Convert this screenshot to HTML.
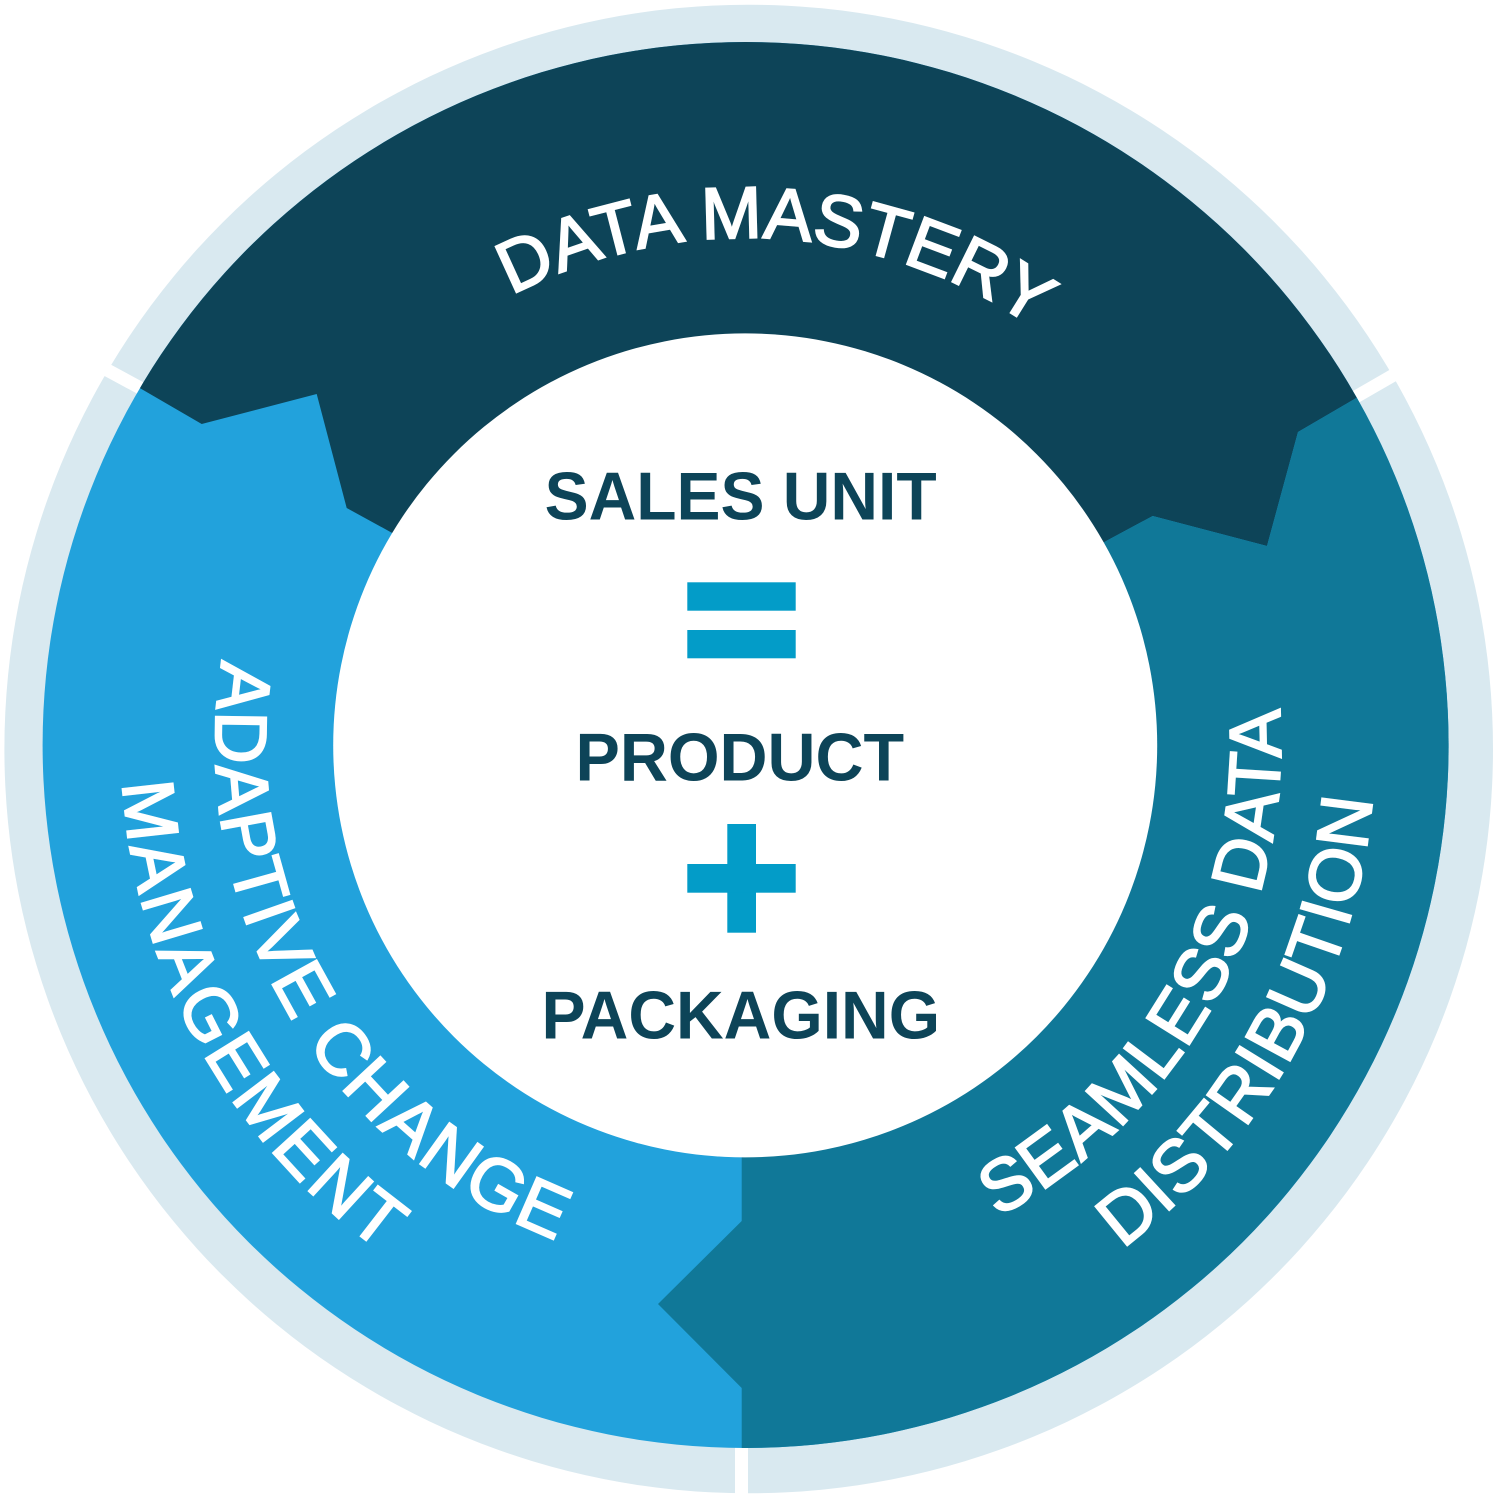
<!DOCTYPE html>
<html>
<head>
<meta charset="utf-8">
<style>
  html, body { margin: 0; padding: 0; background: #ffffff; }
  body { width: 1500px; height: 1500px; overflow: hidden; }
  svg { display: block; }
</style>
</head>
<body>
<svg width="1500" height="1500" viewBox="0 0 1500 1500" xmlns="http://www.w3.org/2000/svg">
  <defs>
    <clipPath id="ring">
      <circle cx="745.6" cy="745" r="703"/>
    </clipPath>
    <!-- DATA MASTERY: clockwise, baseline r=507 -->
    <path id="pTop" d="M 511.5 295.3 A 507 507 0 0 1 1134 419.1" fill="none"/>
    <!-- ADAPTIVE CHANGE: counterclockwise, r=530 -->
    <path id="pL1" d="M 222.4 660.3 A 530 530 0 0 0 699.4 1273" fill="none"/>
    <!-- MANAGEMENT: counterclockwise, r=624 -->
    <path id="pL2" d="M 122.8 783.1 A 624 624 0 0 0 637.2 1359.5" fill="none"/>
    <!-- SEAMLESS DATA: counterclockwise, r=535 -->
    <path id="pR1" d="M 997.5 1217 A 535 535 0 0 0 1248.3 562" fill="none"/>
    <!-- DISTRIBUTION: counterclockwise, r=629 -->
    <path id="pR2" d="M 1122.4 1248.7 A 629 629 0 0 0 1365 635.8" fill="none"/>
  </defs>

  <rect x="0" y="0" width="1500" height="1500" fill="#ffffff"/>

  <!-- outer light ring -->
  <circle cx="748.7" cy="749" r="744.3" fill="#d9e9f0"/>
  <g stroke="#ffffff" stroke-width="13" stroke-linecap="butt">
    <line x1="741.5" y1="1380" x2="741.5" y2="1500"/>
    <line x1="55.2" y1="342" x2="173.7" y2="406"/>
    <line x1="1444" y1="346" x2="1324.3" y2="415"/>
  </g>

  <!-- coloured ring base (light blue segment) -->
  <circle cx="745.6" cy="745" r="703" fill="#22a2dc"/>

  <g clip-path="url(#ring)">
    <!-- navy top segment -->
    <path fill="#0d4458" d="M 0 312.3 L 138 387 L 201.7 424 L 316.7 394 L 346.7 508 L 390 531.7 L 736.4 731.7 L 761.6 740 L 1108 540 L 1152.7 516 L 1267 546 L 1298 432 L 1358 397 L 1500 315 L 1500 0 L 0 0 Z"/>
    <!-- teal right segment -->
    <path fill="#107898" d="M 761.6 740 L 1108 540 L 1152.7 516 L 1267 546 L 1298 432 L 1358 397 L 1500 315 L 1500 1500 L 741.7 1500 L 741.7 1388 L 658 1304 L 741.7 1221 L 741.7 740 Z"/>
  </g>

  <!-- inner white circle -->
  <circle cx="745.2" cy="745.4" r="412" fill="#ffffff"/>

  <!-- ring labels -->
  <g font-family="'Liberation Sans', Arial, sans-serif" font-size="73" fill="#ffffff" stroke="#ffffff" stroke-width="2">
    <text><textPath href="#pTop" textLength="550" lengthAdjust="spacing">DATA MASTERY</textPath></text>
    <text><textPath href="#pL1" textLength="724" lengthAdjust="spacing">ADAPTIVE CHANGE</textPath></text>
    <text><textPath href="#pL2" textLength="553" lengthAdjust="spacing">MANAGEMENT</textPath></text>
    <text><textPath href="#pR1" textLength="614" lengthAdjust="spacing">SEAMLESS DATA</textPath></text>
    <text><textPath href="#pR2" textLength="530" lengthAdjust="spacing">DISTRIBUTION</textPath></text>
  </g>

  <!-- centre content -->
  <g font-family="'Liberation Sans', Arial, sans-serif" font-weight="bold" font-size="68" fill="#0d4458" text-anchor="middle">
    <text x="740.6" y="519.3" textLength="392" lengthAdjust="spacingAndGlyphs">SALES UNIT</text>
    <text x="739.8" y="780.7" textLength="328.6" lengthAdjust="spacingAndGlyphs">PRODUCT</text>
    <text x="740.8" y="1038.3" textLength="398.6" lengthAdjust="spacingAndGlyphs">PACKAGING</text>
  </g>

  <!-- equals sign -->
  <g fill="#039cc8">
    <rect x="687.3" y="582.3" width="108.4" height="28.4"/>
    <rect x="687.3" y="630" width="108.4" height="28.3"/>
    <!-- plus sign -->
    <rect x="727.3" y="824" width="28.7" height="108.7"/>
    <rect x="687.3" y="864" width="108.4" height="28.7"/>
  </g>
</svg>
</body>
</html>
